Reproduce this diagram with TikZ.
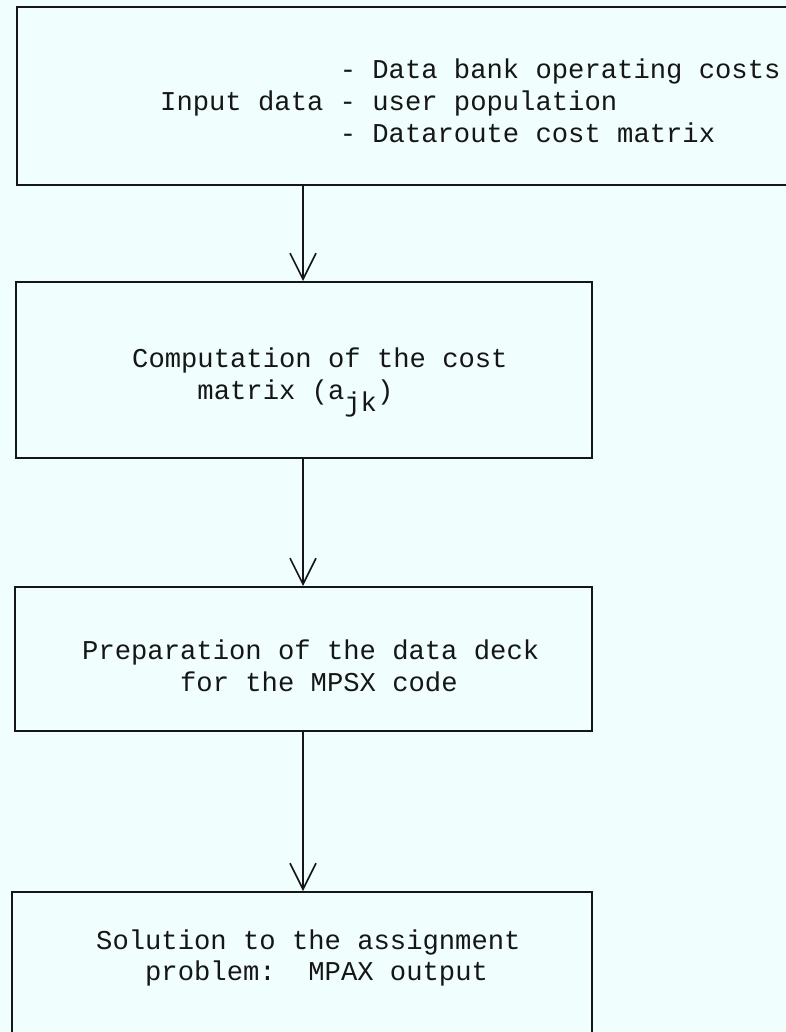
\documentclass[tikz,border=0pt]{standalone}
\usepackage{fontspec}
\newfontfamily\tw{Liberation Mono}[WordSpace={1,0,0},PunctuationSpace=WordSpace]
\usetikzlibrary{arrows.meta}
\definecolor{paper}{RGB}{240,254,254}
\definecolor{ink}{RGB}{22,22,22}
\frenchspacing
\begin{document}
\begin{tikzpicture}[x=1pt,y=-1pt,
  boxst/.style={draw=ink, line width=1.6pt, rectangle, inner sep=0pt, anchor=north west},
  lbl/.style={anchor=base west, inner sep=0pt, text=ink, font=\tw\fontsize{27.2}{32}\selectfont},
  arr/.style={draw=ink, line width=1.6pt, -{Straight Barb[length=26pt,width=26pt,line width=1.6pt]}}]
\useasboundingbox (0,0) rectangle (786,1032);
\fill[paper] (0,0) rectangle (786,1032);
\begin{scope}
\clip (0,0) rectangle (786,1032);
% boxes
\node[boxst, minimum width=800pt, minimum height=178pt] (b1) at (16,6) {};
\node[boxst, minimum width=576pt, minimum height=176pt] (b2) at (15,281) {};
\node[boxst, minimum width=577pt, minimum height=144pt] (b3) at (14,586) {};
\node[boxst, minimum width=580pt, minimum height=160pt] (b4) at (11,891) {};
% texts
\node[lbl] (t1a) at (160,79) {\hphantom{Input data }- Data bank operating costs};
\node[lbl] (t1b) at (160,111) {Input data - user population};
\node[lbl] (t1c) at (160,143) {\hphantom{Input data }- Dataroute cost matrix};
\node[lbl] (t2a) at (132,367) {Computation of the cost};
\node[lbl] (t2b) at (132,399) {\hphantom{xxxx}matrix (a\raisebox{-12pt}{jk})};
\node[lbl] (t3a) at (82,659) {Preparation of the data deck};
\node[lbl] (t3b) at (82,691) {\hphantom{xxxxxx}for the MPSX code};
\node[lbl] (t4a) at (96,949) {Solution to the assignment};
\node[lbl] (t4b) at (96,980) {\hphantom{xxx}problem:\ \ MPAX output};
% connectors
\coordinate (ax) at (303,0);
\draw[arr] (b1.south -| ax) -- (b2.north -| ax);
\draw[arr] (b2.south -| ax) -- (b3.north -| ax);
\draw[arr] (b3.south -| ax) -- (b4.north -| ax);
\end{scope}
\end{tikzpicture}
\end{document}
